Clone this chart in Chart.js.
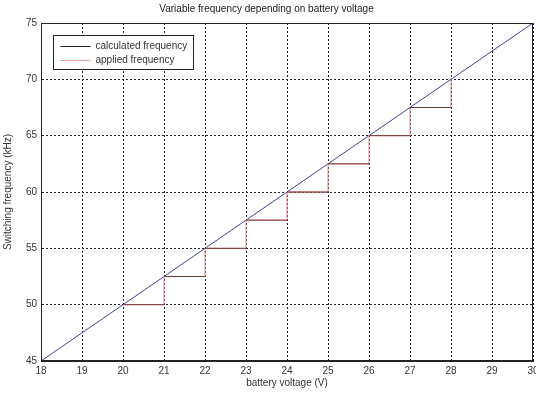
<!DOCTYPE html>
<html>
<head>
<meta charset="utf-8">
<title>Variable frequency</title>
<script src="https://cdn.jsdelivr.net/npm/chart.js@4.4.1/dist/chart.umd.min.js"></script>
<style>
    html, body { margin: 0; padding: 0; background: #fff; }
    #wrap { width: 536px; height: 395px; }
</style>
</head>
<body>
<div id="wrap"><canvas id="freqChart" width="536" height="395"></canvas></div>
<script>
// straight line: frequency follows battery voltage
const lineVolts = [18, 30]
const lineFreq = [45, 75]

// frequency steps actually used, one per volt
const stepVolts = [20, 21, 22, 23, 24, 25, 26, 27, 28]
const stepFreq = [50, 52.5, 55, 57.5, 60, 62.5, 65, 67.5, 70]

const xTicks = [18, 19, 20, 21, 22, 23, 24, 25, 26, 27, 28, 29, 30]
const yTicks = [45, 50, 55, 60, 65, 70, 75]

const labelFont = { family: "'Liberation Sans', Arial, sans-serif", size: 10 }
const textColor = '#333'

// flat pieces of each step, broken between steps
let flatPoints = []
for (let i = 0; i < stepVolts.length - 1; i++) {
    flatPoints.push({ x: stepVolts[i], y: stepFreq[i] })
    flatPoints.push({ x: stepVolts[i + 1], y: stepFreq[i] })
    flatPoints.push({ x: stepVolts[i + 1], y: null })
}

// box around the plot, like an axes frame
const framePlugin = {
    id: 'frame',
    afterDraw(chart) {
        const a = chart.chartArea
        const ctx = chart.ctx
        ctx.save()
        ctx.strokeStyle = '#222'
        ctx.lineWidth = 1
        ctx.strokeRect(Math.round(a.left) + 0.5, Math.round(a.top) + 0.5,
            Math.round(a.right - a.left) - 1, Math.round(a.bottom - a.top) - 1)
        ctx.restore()
    }
}

// legend drawn inside the plot, top left
const boxLegend = {
    id: 'boxLegend',
    afterDraw(chart) {
        const a = chart.chartArea
        const ctx = chart.ctx
        const items = chart.data.datasets.filter(d => d.legendColor)
        const x = Math.round(a.left) + 12.5
        const y = Math.round(a.top) + 12.5
        ctx.save()
        ctx.fillStyle = '#fff'
        ctx.fillRect(x, y, 140, 34)
        ctx.strokeStyle = '#222'
        ctx.lineWidth = 1
        ctx.strokeRect(x, y, 140, 34)
        ctx.font = "10px 'Liberation Sans', Arial, sans-serif"
        ctx.textBaseline = 'middle'
        items.forEach((d, i) => {
            const ly = Math.round(y + 10 + i * 14) + 0.5
            ctx.strokeStyle = d.legendColor
            ctx.beginPath()
            ctx.moveTo(x + 7, ly)
            ctx.lineTo(x + 37, ly)
            ctx.stroke()
            ctx.fillStyle = textColor
            ctx.fillText(d.label, x + 42, ly)
        })
        ctx.restore()
    }
}

const ctx = document.getElementById('freqChart').getContext('2d')
const freqChart = new Chart(ctx, {
    type: 'line',
    data: {
        datasets: [
            {
                label: 'calculated frequency',
                legendColor: '#222',
                data: flatPoints,
                borderColor: '#7a3a3a',
                borderWidth: 1,
                pointRadius: 0,
                spanGaps: false
            },
            {
                label: 'applied frequency',
                legendColor: '#e8a0a0',
                data: stepVolts.map((v, i) => ({ x: v, y: stepFreq[i] })),
                borderColor: '#d88a8a',
                borderWidth: 1,
                pointRadius: 0,
                stepped: 'before'
            },
            {
                label: 'line',
                data: lineVolts.map((v, i) => ({ x: v, y: lineFreq[i] })),
                borderColor: '#42429a',
                borderWidth: 1,
                pointRadius: 0
            }
        ]
    },
    options: {
        responsive: false,
        animation: false,
        maintainAspectRatio: false,
        layout: { padding: { left: 0, right: 3, top: 0, bottom: 0 } },
        plugins: {
            legend: { display: false },
            tooltip: { enabled: false },
            title: {
                display: true,
                text: 'Variable frequency depending on battery voltage',
                color: '#222',
                font: { family: labelFont.family, size: 10, weight: 'normal' },
                padding: { top: 3, bottom: 8 }
            }
        },
        scales: {
            x: {
                type: 'linear',
                min: 18,
                max: 30,
                afterBuildTicks: scale => { scale.ticks = xTicks.map(v => ({ value: v })) },
                afterFit: scale => {
                    scale.height = 34
                    scale.paddingLeft = 0
                    scale.paddingRight = 0
                },
                ticks: { color: textColor, font: labelFont, padding: 4, maxRotation: 0 },
                grid: { color: '#222', drawTicks: false },
                border: { color: '#222', dash: [2, 2] },
                title: {
                    display: true,
                    text: 'battery voltage (V)',
                    color: textColor,
                    font: labelFont,
                    padding: 6
                }
            },
            y: {
                min: 45,
                max: 75,
                afterBuildTicks: scale => { scale.ticks = yTicks.map(v => ({ value: v })) },
                afterFit: scale => {
                    scale.width = 41
                    scale.paddingTop = 0
                    scale.paddingBottom = 0
                },
                ticks: { color: textColor, font: labelFont, padding: 4 },
                grid: { color: '#222', drawTicks: false },
                border: { color: '#222', dash: [2, 2] },
                title: {
                    display: true,
                    text: 'Switching frequency (kHz)',
                    color: textColor,
                    font: labelFont,
                    padding: 2
                }
            }
        }
    },
    plugins: [framePlugin, boxLegend]
})
</script>
</body>
</html>
